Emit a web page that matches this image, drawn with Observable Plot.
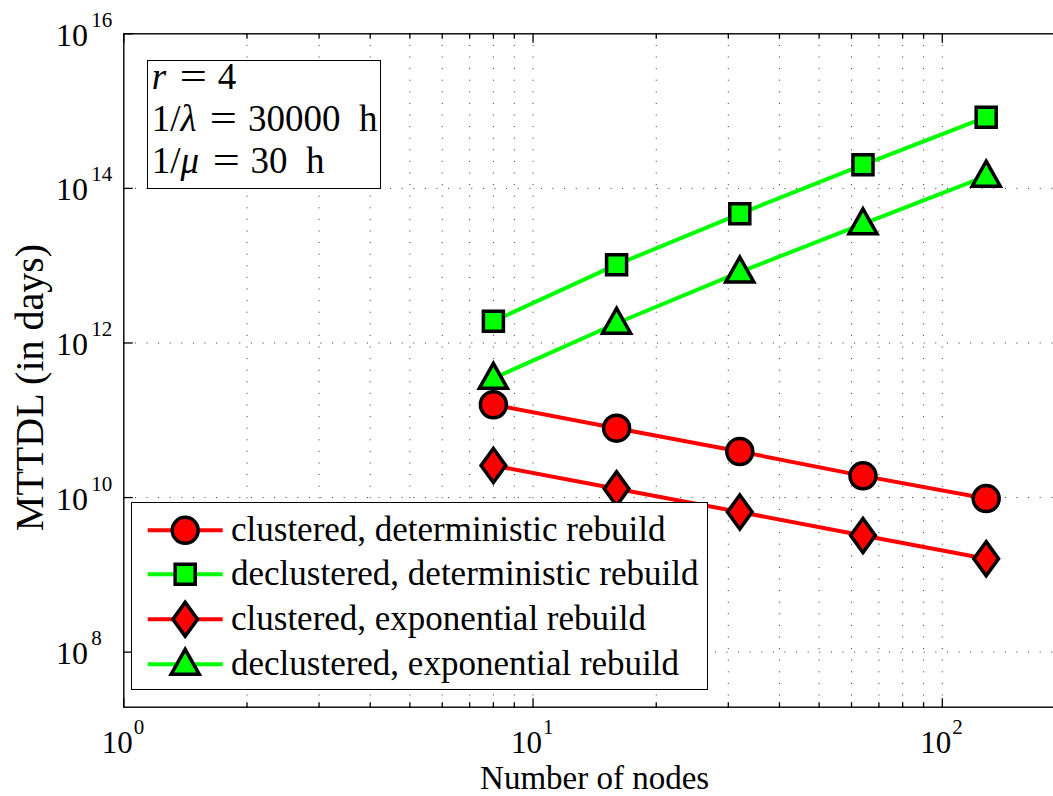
<!DOCTYPE html>
<html>
<head>
<meta charset="utf-8">
<script src="https://cdn.jsdelivr.net/npm/d3@7"></script>
<script src="https://cdn.jsdelivr.net/npm/@observablehq/plot@0.6"></script>
<style>
  html, body { margin: 0; padding: 0; background: #fff; }
  #wrap { position: relative; width: 1053px; height: 796px; overflow: hidden; background: #fff; }
  #wrap svg { display: block; }
  .box { position: absolute; background: #fff; border: 1.3px solid #000; box-sizing: border-box;
         font-family: "Liberation Serif", "Times New Roman", serif; color: #000; }
  .legend-row { display: flex; align-items: center; height: 44.7px; }
  .legend-row span { font-family: "Liberation Serif", serif; font-size: 35px; line-height: 44.7px; white-space: nowrap; }
  .param-line { font-family: "Liberation Serif", serif; font-size: 37px; line-height: 42px; white-space: nowrap; }
  .param-line .eq { display: inline-block; margin: 0 0.38em 0 0.45em; transform: scaleX(1.3); }
  .param-line .unit { margin-left: 0.5em; }
</style>
</head>
<body>
<div id="wrap"></div>
<script>
// MTTDL versus number of nodes, four rebuild configurations
const nodes = [8, 16, 32, 64, 128];
const clusteredDeterministic   = [1.59e11, 7.9e10, 3.94e10, 1.91e10, 9.7e9];
const declusteredDeterministic = [1.91e12, 1.03e13, 4.69e13, 2.02e14, 8.34e14];
const clusteredExponential     = [2.6e10, 1.3e10, 6.5e9, 3.23e9, 1.62e9];
const declusteredExponential   = [3.49e11, 1.8e12, 8.26e12, 3.48e13, 1.44e14];

const seriesLabels = [
  "clustered, deterministic rebuild",
  "declustered, deterministic rebuild",
  "clustered, exponential rebuild",
  "declustered, exponential rebuild"
];
const seriesColors = ["#ff0000", "#00ff00", "#ff0000", "#00ff00"];

const xMajorTicks = [1, 10, 100];
const xMinorTicks = [2, 3, 4, 5, 6, 7, 8, 9, 20, 30, 40, 50, 60, 70, 80, 90];
const yMajorTicks = [1e8, 1e10, 1e12, 1e14, 1e16];
const yGridValues = [1e8, 1e10, 1e12, 1e14];
const xDomain = [1, 200];
const yDomain = [1.94e7, 1e16];
const xAxisLabel = "Number of nodes";
const yAxisLabel = "MTTDL (in days)";

// parameter box: [symbol, value, unit]
const paramRows = [["r", "4", ""], ["1/λ", "30000", "h"], ["1/μ", "30", "h"]];

const seriesValues = [clusteredDeterministic, declusteredDeterministic, clusteredExponential, declusteredExponential];

// marker shapes (sizes follow the dot radius)
const radiusOf = size => Math.sqrt(size / Math.PI);
const circleSym = {draw(ctx, size) { const r = radiusOf(size); ctx.moveTo(r, 0); ctx.arc(0, 0, r, 0, 2 * Math.PI); ctx.closePath(); }};
const squareSym = {draw(ctx, size) { const h = 0.77 * radiusOf(size);
  ctx.moveTo(-h, -h); ctx.lineTo(h, -h); ctx.lineTo(h, h); ctx.lineTo(-h, h); ctx.closePath(); }};
const diamondSym = {draw(ctx, size) { const r = radiusOf(size), w = 0.95 * r, h = 1.31 * r;
  ctx.moveTo(0, -h); ctx.lineTo(w, 0); ctx.lineTo(0, h); ctx.lineTo(-w, 0); ctx.closePath(); }};
const triangleSym = {draw(ctx, size) { const r = radiusOf(size), w = 1.08 * r;
  ctx.moveTo(0, -1.15 * r); ctx.lineTo(w, 0.77 * r); ctx.lineTo(-w, 0.77 * r); ctx.closePath(); }};
const seriesSymbols = [circleSym, squareSym, diamondSym, triangleSym];

// short inward tick strokes for the axes box
const tickSym = (dx, dy) => ({draw(ctx) { ctx.moveTo(0, 0); ctx.lineTo(dx, dy); }});

const serif = "Liberation Serif";
const gridStyle = {stroke: "#333", strokeWidth: 1, strokeDasharray: "1,10.6"};

const marks = [
  Plot.ruleX([...xMinorTicks, 10, 100], gridStyle),
  Plot.ruleY(yGridValues, gridStyle)
];

seriesValues.forEach((vals, k) => {
  marks.push(Plot.line(nodes, {x: d => d, y: (d, i) => vals[i], stroke: seriesColors[k], strokeWidth: 4, strokeLinecap: "butt"}));
  marks.push(Plot.dot(nodes, {x: d => d, y: (d, i) => vals[i], symbol: seriesSymbols[k], r: 13,
    fill: seriesColors[k], stroke: "#000", strokeWidth: 3.5}));
});

const tickStyle = {stroke: "#000", strokeWidth: 1.3, fill: "none"};
const labelText = {fontFamily: serif, fill: "#000", lineAnchor: "middle"};
marks.push(
  Plot.frame({stroke: "#000", strokeWidth: 1.4}),
  Plot.dot(xMajorTicks, {x: d => d, frameAnchor: "bottom", symbol: tickSym(0, -9), ...tickStyle}),
  Plot.dot(xMajorTicks, {x: d => d, frameAnchor: "top", symbol: tickSym(0, 9), ...tickStyle}),
  Plot.dot(xMinorTicks, {x: d => d, frameAnchor: "bottom", symbol: tickSym(0, -5), ...tickStyle}),
  Plot.dot(xMinorTicks, {x: d => d, frameAnchor: "top", symbol: tickSym(0, 5), ...tickStyle}),
  Plot.dot(yMajorTicks, {y: d => d, frameAnchor: "left", symbol: tickSym(9, 0), ...tickStyle}),
  // x tick labels: 10 with a raised exponent
  Plot.text(xMajorTicks, {x: d => d, frameAnchor: "bottom", text: () => "10", textAnchor: "end",
    dx: 9, dy: 35.9, fontSize: 31, ...labelText}),
  Plot.text(xMajorTicks, {x: d => d, frameAnchor: "bottom", text: d => String(Math.round(Math.log10(d))), textAnchor: "start",
    dx: 10, dy: 20.5, fontSize: 21, ...labelText}),
  // y tick labels
  Plot.text(yMajorTicks, {y: d => d, frameAnchor: "left", text: () => "10", textAnchor: "end",
    dx: -35.8, dy: 1.8, fontSize: 32, ...labelText}),
  Plot.text(yMajorTicks, {y: d => d, frameAnchor: "left", text: d => String(Math.round(Math.log10(d))), textAnchor: "start",
    dx: -32.5, dy: -13.7, fontSize: 21, ...labelText}),
  // axis titles
  Plot.text([xAxisLabel], {frameAnchor: "bottom", text: d => d, textAnchor: "middle", dy: 71.5, fontSize: 33, ...labelText}),
  Plot.text([yAxisLabel], {frameAnchor: "left", text: d => d, textAnchor: "middle", rotate: -90, dx: -94, dy: 17, fontSize: 40, ...labelText})
);

const chart = Plot.plot({
  width: 1053,
  height: 796,
  marginLeft: 123.3,
  marginRight: -12,
  marginTop: 33.3,
  marginBottom: 89.3,
  x: {type: "log", domain: xDomain, axis: null},
  y: {type: "log", domain: yDomain, axis: null},
  style: {background: "white", overflow: "hidden"},
  marks
});

const wrap = document.getElementById("wrap");
wrap.appendChild(chart);

// parameter box in the upper left of the axes
const params = document.createElement("div");
params.className = "box";
Object.assign(params.style, {left: "146.7px", top: "60px", width: "234px", height: "129.3px", borderWidth: "1px"});
const paramInner = document.createElement("div");
Object.assign(paramInner.style, {position: "relative", top: "-5px", left: "4px"});
const italicize = s => s.replace(/([rλμ])/g, "<i>$1</i>");
paramRows.forEach(([sym, val, unit]) => {
  const line = document.createElement("div");
  line.className = "param-line";
  line.innerHTML = `${italicize(sym)}<span class="eq">=</span>${val}${unit ? `<span class="unit">${unit}</span>` : ""}`;
  paramInner.appendChild(line);
});
params.appendChild(paramInner);
wrap.appendChild(params);

// legend in the lower left of the axes
const legend = document.createElement("div");
legend.className = "box";
Object.assign(legend.style, {left: "131px", top: "502.3px", width: "577.3px", height: "188px", paddingTop: "4.3px"});
seriesLabels.forEach((label, k) => {
  const row = document.createElement("div");
  row.className = "legend-row";
  const svg = d3.create("svg").attr("width", 99).attr("height", 44.7).style("overflow", "visible");
  svg.append("line").attr("x1", 15.7).attr("x2", 90.7).attr("y1", 22.35).attr("y2", 22.35)
    .attr("stroke", seriesColors[k]).attr("stroke-width", 4);
  const p = d3.path();
  seriesSymbols[k].draw(p, 13 * 13 * Math.PI);
  svg.append("path").attr("d", p.toString()).attr("transform", "translate(53.2,22.35)")
    .attr("fill", seriesColors[k]).attr("stroke", "#000").attr("stroke-width", 3.5);
  row.appendChild(svg.node());
  const span = document.createElement("span");
  span.textContent = label;
  row.appendChild(span);
  legend.appendChild(row);
});
wrap.appendChild(legend);
</script>
</body>
</html>
